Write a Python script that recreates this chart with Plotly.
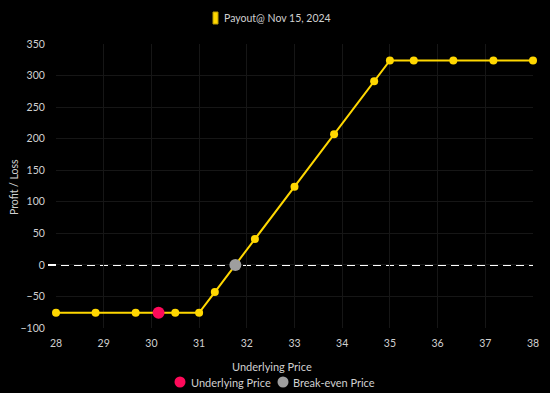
import plotly.graph_objects as go

price = [28.0, 28.83, 29.67, 30.5, 31.0, 31.33, 32.17, 33.0, 33.83, 34.67, 35.0, 35.5, 36.33, 37.17, 38.0]
payout = [-76, -76, -76, -76, -76, -43, 41, 124, 207, 291, 324, 324, 324, 324, 324]
underlying_price = [30.15]
underlying_pl = [-76]
breakeven_price = [31.76]
breakeven_pl = [0]
x_ticks = [28, 29, 30, 31, 32, 33, 34, 35, 36, 37, 38]
y_ticks = [-100, -50, 0, 50, 100, 150, 200, 250, 300, 350]
series_name = "Payout@ Nov 15, 2024"
legend_names = ["Underlying Price", "Break-even Price"]

YELLOW = "#FFD700"
PINK = "#FF0A5A"
GRAY = "#9E9E9E"
TXT = "#d0d0d0"
FONT = "Lato"

W, H = 550, 393
L, R, T, B = 56, 17, 44, 65
PW, PH = W - L - R, H - T - B


def px(x):
    return (x - L) / PW


def py(y):
    return (H - B - y) / PH


fig = go.Figure()
fig.add_trace(go.Scatter(
    x=price, y=payout, mode="lines+markers",
    line=dict(color=YELLOW, width=2),
    marker=dict(color=YELLOW, size=8),
    name=series_name, showlegend=False, cliponaxis=False,
))
fig.add_trace(go.Scatter(
    x=underlying_price, y=underlying_pl, mode="markers",
    marker=dict(color=PINK, size=12),
    name=legend_names[0], showlegend=False,
))
fig.add_trace(go.Scatter(
    x=breakeven_price, y=breakeven_pl, mode="markers",
    marker=dict(color=GRAY, size=12),
    name=legend_names[1], showlegend=False,
))

# zero line
fig.add_shape(type="line", xref="paper", yref="y", x0=px(48), x1=1, y0=0, y1=0,
              line=dict(color="white", width=2, dash="8px,5px"), layer="below")

# top legend
fig.add_shape(type="rect", xref="paper", yref="paper", x0=px(213), x1=px(218), y0=py(24), y1=py(12),
              fillcolor=YELLOW, line=dict(color="#b89b00", width=1))
fig.add_annotation(text=series_name, xref="paper", yref="paper", x=px(222), y=py(18),
                   xanchor="left", yanchor="middle", showarrow=False,
                   font=dict(size=10.5, color=TXT, family=FONT))

# bottom legend
for cx, col, tx, name in [(180, PINK, 189, legend_names[0]), (283, GRAY, 291, legend_names[1])]:
    fig.add_shape(type="circle", xref="paper", yref="paper",
                  x0=px(cx - 5.5), x1=px(cx + 5.5), y0=py(382 + 5.5), y1=py(382 - 5.5),
                  fillcolor=col, line=dict(width=0))
    fig.add_annotation(text=name, xref="paper", yref="paper", x=px(tx), y=py(382),
                       xanchor="left", yanchor="middle", showarrow=False,
                       font=dict(size=11, color=TXT, family=FONT))

# axis titles
fig.add_annotation(text="Underlying Price", xref="paper", yref="paper", x=px(272), y=py(366),
                   xanchor="center", yanchor="middle", showarrow=False,
                   font=dict(size=11, color=TXT, family=FONT))
fig.add_annotation(text="Profit / Loss", xref="paper", yref="paper", x=px(14), y=py(187),
                   xanchor="center", yanchor="middle", showarrow=False, textangle=-90,
                   font=dict(size=10.5, color=TXT, family=FONT))

fig.update_layout(
    width=W, height=H,
    paper_bgcolor="black", plot_bgcolor="black",
    margin=dict(l=L, r=R, t=T, b=B, autoexpand=False),
    font=dict(family=FONT, color=TXT, size=10.5),
    showlegend=False,
    xaxis=dict(range=[28, 38], tickvals=x_ticks, showgrid=True, gridcolor="#161616",
               zeroline=False, showline=False, ticks="outside", ticklen=5, automargin=False,
               tickcolor="rgba(0,0,0,0)", tickfont=dict(size=10.5, color=TXT)),
    yaxis=dict(range=[-100, 350], tickvals=y_ticks, showgrid=True, gridcolor="#161616",
               zeroline=False, showline=False, ticks="outside", ticklen=8, automargin=False,
               tickcolor="rgba(0,0,0,0)", tickfont=dict(size=10.5, color=TXT)),
)

fig.write_html("out.html", config={"displayModeBar": False},
               post_script="document.body.style.margin='0';")
